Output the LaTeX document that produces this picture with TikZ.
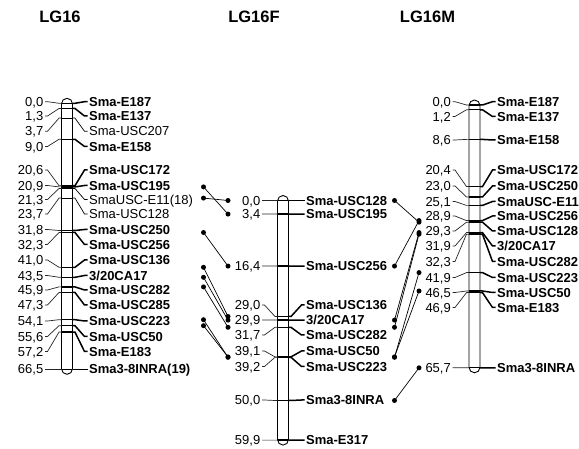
\documentclass[tikz,border=0pt]{standalone}
\usepackage{fontspec}
\setmainfont{Liberation Sans}
\tikzset{
  num/.style={anchor=east, inner sep=0pt, font=\fontsize{13}{15}\selectfont, text height=9.3pt, text depth=0pt},
  labB/.style={anchor=west, inner sep=0pt, font=\fontsize{13}{15}\selectfont\bfseries, text height=9.3pt, text depth=0pt},
  labN/.style={anchor=west, inner sep=0pt, font=\fontsize{13}{15}\selectfont, text height=9.3pt, text depth=0pt},
  leadL/.style={line width=0.7pt, black!85},
  leadB/.style={line width=1.5pt},
  leadN/.style={line width=0.7pt},
  tickB/.style={line width=1.4pt},
  tickN/.style={line width=0.8pt},
  bar/.style={line width=0.9pt},
  link/.style={line width=0.7pt},
  dot/.style={circle, fill=black, inner sep=0pt, minimum size=5pt},
  title/.style={font=\fontsize{16.5}{18}\selectfont\bfseries, inner sep=0pt, text height=12pt, text depth=0pt}
}
\newcommand\chrom[7]{%
  \pgfmathsetmacro\xL{#2-5.5}%
  \pgfmathsetmacro\xR{#2+5.5}%
  \pgfmathsetmacro\yT{#3-5}%
  \pgfmathsetmacro\yB{#3+4*#4+5}%
  \fill[white, rounded corners=5.5pt] (\xL,\yT) rectangle (\xR,\yB);
  \begin{scope}
    \clip[rounded corners=5.5pt] (\xL,\yT) rectangle (\xR,\yB);
    \foreach \a/\b/\ly/\lab/\st in {#7} {
      \pgfmathsetmacro\by{#3+4*\a.\b}
      \draw[tick\st] (\xL,\by) -- (\xR,\by);
    }
  \end{scope}
  \draw[bar, rounded corners=5.5pt] (\xL,\yT) rectangle (\xR,\yB);
  \foreach \a/\b/\ly/\lab/\st [count=\i] in {#7} {
    \pgfmathsetmacro\by{#3+4*\a.\b}
    \pgfmathsetmacro\xLa{\xL-2.5}
    \pgfmathsetmacro\xRa{\xR+2.5}
    \node[num] (#1n\i) at (#5,\ly) {\a,\b};
    \node[lab\st] (#1l\i) at (#6,\ly) {\lab};
    \draw[leadL] ([xshift=1.5pt]#1n\i.east) -- ++(2.5,0) -- (\xLa,\by) -- (\xL,\by);
    \draw[lead\st] (\xR,\by) -- (\xRa,\by) -- ([xshift=-4.5pt]#1l\i.west) -- ([xshift=-1.5pt]#1l\i.west);
  }
}
\begin{document}
\begin{tikzpicture}[x=1pt,y=-1pt]
\useasboundingbox (0,0) rectangle (579,449);
\node[title] (t1) at (60,17) {LG16};
\node[title] (t2) at (254,17) {LG16F};
\node[title] (t3) at (427.5,17) {LG16M};

\chrom{A}{67}{103.3}{66.5}{43.5}{89}{%
0/0/101.7/Sma-E187/B,
1/3/116/Sma-E137/B,
3/7/131.3/Sma-USC207/N,
9/0/146.5/Sma-E158/B,
20/6/170/Sma-USC172/B,
20/9/185.5/Sma-USC195/B,
21/3/199.5/SmaUSC-E11(18)/N,
23/7/214/Sma-USC128/N,
31/8/229.5/Sma-USC250/B,
32/3/244.5/Sma-USC256/B,
41/0/260/Sma-USC136/B,
43/5/275.5/{3/20CA17}/B,
45/9/290/Sma-USC282/B,
47/3/305/Sma-USC285/B,
54/1/321/Sma-USC223/B,
55/6/336.5/Sma-USC50/B,
57/2/351.5/Sma-E183/B,
66/5/369.3/Sma3-8INRA(19)/B}

\chrom{F}{283}{200.5}{59.9}{260.5}{306}{%
0/0/200.5/Sma-USC128/B,
3/4/214.1/Sma-USC195/B,
16/4/266.1/Sma-USC256/B,
29/0/305/Sma-USC136/B,
29/9/320.1/{3/20CA17}/B,
31/7/335/Sma-USC282/B,
39/1/351/Sma-USC50/B,
39/2/366.5/Sma-USC223/B,
50/0/400/Sma3-8INRA/B,
59/9/440.1/Sma-E317/B}

\chrom{M}{474.5}{105}{65.7}{451}{497}{%
0/0/101.7/Sma-E187/B,
1/2/116.5/Sma-E137/B,
8/6/140/Sma-E158/B,
20/4/170/Sma-USC172/B,
23/0/186/Sma-USC250/B,
25/1/201.5/SmaUSC-E11/B,
28/9/216/Sma-USC256/B,
29/3/231/Sma-USC128/B,
31/9/246/{3/20CA17}/B,
32/3/261.5/Sma-USC282/B,
41/9/277.5/Sma-USC223/B,
46/5/292.5/Sma-USC50/B,
46/9/307.5/Sma-E183/B,
65/7/367.8/Sma3-8INRA/B}

% links LG16 -> LG16F
\foreach \n/\ya/\yb in {u195/186.9/214.1, u128/198.1/200.5, u256/232.5/266.1, u136/267.3/316.5,
  ca17/277.3/320.1, u282/286.9/327.3, u223/319.7/357.3, u50/325.7/356.9} {
  \coordinate (L\n a) at (203.5,\ya);
  \coordinate (L\n b) at (228,\yb);
  \draw[link] (L\n a) -- (L\n b);
  \node[dot] at (L\n a) {};
  \node[dot] at (L\n b) {};
}
% links LG16F -> LG16M
\foreach \n/\ya/\yb in {u128/200.5/222.2, u256/266.1/220.6, ca17/320.1/232.6, u282/327.3/234.2,
  u50/356.9/291, u223/357.3/272.6, inra/400.5/367.8} {
  \coordinate (R\n a) at (394.5,\ya);
  \coordinate (R\n b) at (419,\yb);
  \draw[link] (R\n a) -- (R\n b);
  \node[dot] at (R\n a) {};
  \node[dot] at (R\n b) {};
}
\end{tikzpicture}
\end{document}
